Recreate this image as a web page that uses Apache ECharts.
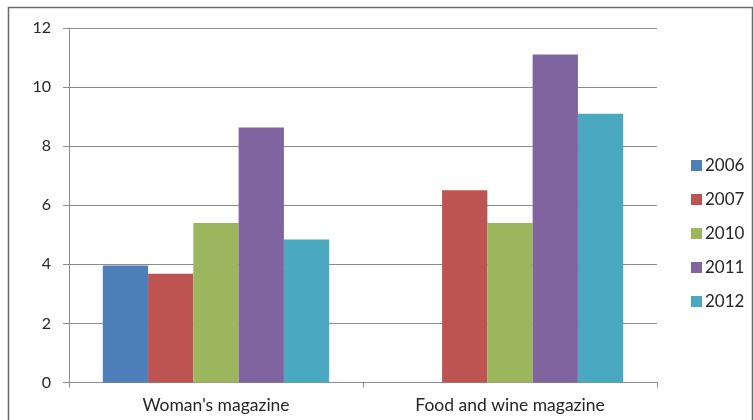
<!DOCTYPE html>
<html>
<head>
<meta charset="utf-8">
<script src="https://cdn.jsdelivr.net/npm/echarts@6/dist/echarts.min.js"></script>
<style>
  html, body { margin: 0; padding: 0; background: #fff; }
  #chart { width: 753px; height: 420px; }
</style>
</head>
<body>
<div id="chart"></div>
<script>
// Magazine figures by year
const categories = ["Woman's magazine", "Food and wine magazine"];
const years = ['2006', '2007', '2010', '2011', '2012'];
const values2006 = [3.96, null];
const values2007 = [3.68, 6.51];
const values2010 = [5.40, 5.40];
const values2011 = [8.63, 11.10];
const values2012 = [4.84, 9.10];
const yTicks = [0, 2, 4, 6, 8, 10, 12];

const seriesValues = [values2006, values2007, values2010, values2011, values2012];
const colors = ['#4f7fb9', '#bd5451', '#9bb65c', '#7f64a0', '#4ba8c1'];
const fontFamily = 'Lato, "Open Sans", sans-serif';

const chart = echarts.init(document.getElementById('chart'), null, { renderer: 'canvas' });

chart.setOption({
  animation: false,
  backgroundColor: '#ffffff',
  color: colors,
  grid: { left: 69, right: 96, top: 28, bottom: 37.5, containLabel: false },
  legend: {
    orient: 'vertical',
    left: 686,
    top: 152,
    itemWidth: 11,
    itemHeight: 11,
    itemGap: 17,
    icon: 'rect',
    textStyle: { fontFamily: fontFamily, fontSize: 17, color: '#262626', padding: [0, 0, 0, -2] },
    data: years
  },
  xAxis: {
    type: 'category',
    data: categories,
    axisLine: { show: true, lineStyle: { color: '#8c8c8c', width: 1 } },
    axisTick: { show: true, length: 5, alignWithLabel: false, lineStyle: { color: '#8c8c8c' } },
    axisLabel: { fontFamily: fontFamily, fontSize: 17.5, color: '#262626', margin: 14 },
    splitLine: { show: false }
  },
  yAxis: {
    type: 'value',
    min: yTicks[0],
    max: yTicks[yTicks.length - 1],
    interval: 2,
    axisLine: { show: true, lineStyle: { color: '#8c8c8c', width: 1 } },
    axisTick: { show: true, length: 6, lineStyle: { color: '#8c8c8c' } },
    axisLabel: { fontFamily: fontFamily, fontSize: 16, color: '#262626', margin: 18 },
    splitLine: { show: true, lineStyle: { color: '#8c8c8c', width: 1 } }
  },
  series: years.map((y, i) => ({
    name: y,
    type: 'bar',
    data: seriesValues[i],
    barGap: '0%',
    barCategoryGap: '23%',
    itemStyle: { color: colors[i] }
  })),
  graphic: [{
    type: 'rect',
    shape: { x: 8.5, y: 7.5, width: 744, height: 420 },
    style: { fill: 'none', stroke: '#6b6b6b', lineWidth: 1.5 },
    silent: true,
    z: 100
  }]
});
</script>
</body>
</html>
